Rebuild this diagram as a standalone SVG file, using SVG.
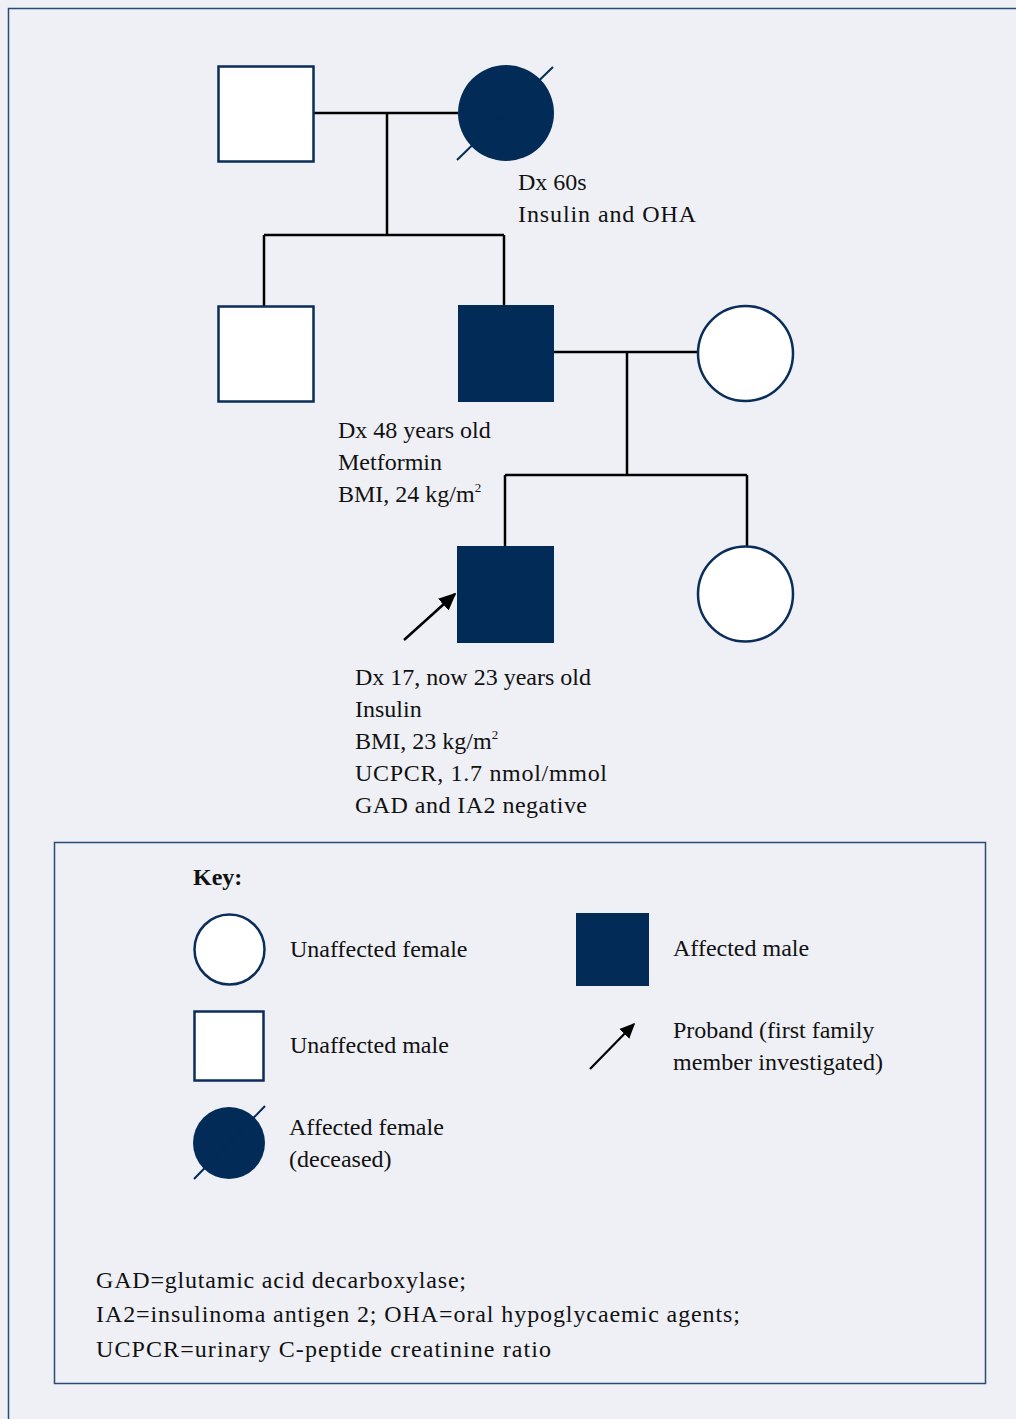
<svg xmlns="http://www.w3.org/2000/svg" width="1016" height="1419" viewBox="0 0 1016 1419">
<style>
.bg{fill:#eff0f5}
.frame{fill:none;stroke:#2a4a78;stroke-width:1.5}
.un{fill:#ffffff;stroke:#0a2d5a;stroke-width:2.5}
.af{fill:#022b57;stroke:none}
.line{fill:none;stroke:#000;stroke-width:2.5}
.dec{stroke:#022b57;stroke-width:2}
text{font-family:"Liberation Serif","Times New Roman",serif;font-size:24px;fill:#111}
.b{font-weight:bold}
</style>
<defs>
<marker id="ah" viewBox="0 0 10 10" refX="9" refY="5" markerWidth="7" markerHeight="7" orient="auto" markerUnits="strokeWidth">
<path d="M0,0.5 L10,5 L0,9.5 Z" fill="#000"/>
</marker>
</defs>
<rect class="bg" x="0" y="0" width="1016" height="1419"/>
<path class="frame" d="M8.5,1419 V8.5 H1016"/>

<g id="connectors">
<path class="line" d="M313,113 H458"/>
<path class="line" d="M387,113 V235"/>
<path class="line" d="M264,235 H504"/>
<path class="line" d="M264,235 V306"/>
<path class="line" d="M504,235 V306"/>
<path class="line" d="M553,352 H698"/>
<path class="line" d="M627,352 V475"/>
<path class="line" d="M505,475 H747"/>
<path class="line" d="M505,475 V546"/>
<path class="line" d="M747,475 V546"/>
<path class="line" d="M404,640 L455,594" marker-end="url(#ah)"/>
</g>

<g id="grandfather"><rect class="un" x="218.5" y="66.5" width="95" height="95"/></g>
<g id="grandmother">
<circle class="af" cx="506" cy="113" r="48"/>
<line class="dec" x1="457" y1="160" x2="553" y2="67"/>
<text x="518" y="190">Dx 60s</text>
<text x="518" y="222" textLength="178">Insulin and OHA</text>
</g>
<g id="uncle"><rect class="un" x="218.5" y="306.5" width="95" height="95"/></g>
<g id="father">
<rect class="af" x="458" y="305" width="96" height="97"/>
<text x="338" y="438">Dx 48 years old</text>
<text x="338" y="470">Metformin</text>
<text x="338" y="502">BMI, 24 kg/m<tspan font-size="13" dy="-10">2</tspan></text>
</g>
<g id="mother"><circle class="un" cx="745.5" cy="353.5" r="47.5"/></g>
<g id="proband">
<rect class="af" x="457" y="546" width="97" height="97"/>
<text x="355" y="685">Dx 17, now 23 years old</text>
<text x="355" y="717">Insulin</text>
<text x="355" y="749">BMI, 23 kg/m<tspan font-size="13" dy="-10">2</tspan></text>
<text x="355" y="781" textLength="252">UCPCR, 1.7 nmol/mmol</text>
<text x="355" y="813" textLength="232">GAD and IA2 negative</text>
</g>
<g id="sister"><circle class="un" cx="745.5" cy="594" r="47.5"/></g>

<g id="key">
<rect class="frame" x="54.5" y="842.5" width="931" height="541"/>
<text class="b" x="193" y="885" font-size="22">Key:</text>
<circle class="un" cx="229.5" cy="949.5" r="35"/>
<text x="290" y="957">Unaffected female</text>
<rect class="af" x="576" y="913" width="73" height="73"/>
<text x="673" y="956">Affected male</text>
<rect class="un" x="194.5" y="1011.5" width="69" height="69"/>
<text x="290" y="1053">Unaffected male</text>
<path class="line" d="M590,1069 L634,1024" marker-end="url(#ah)" style="stroke-width:2.2"/>
<text x="673" y="1038">Proband (first family</text>
<text x="673" y="1070" textLength="210">member investigated)</text>
<circle class="af" cx="229" cy="1143" r="36"/>
<line class="dec" x1="194" y1="1179" x2="265" y2="1106"/>
<text x="289" y="1135">Affected female</text>
<text x="289" y="1167">(deceased)</text>
<text x="96" y="1288" textLength="370">GAD=glutamic acid decarboxylase;</text>
<text x="96" y="1322" textLength="644">IA2=insulinoma antigen 2; OHA=oral hypoglycaemic agents;</text>
<text x="96" y="1357" textLength="455">UCPCR=urinary C-peptide creatinine ratio</text>
</g>
</svg>
